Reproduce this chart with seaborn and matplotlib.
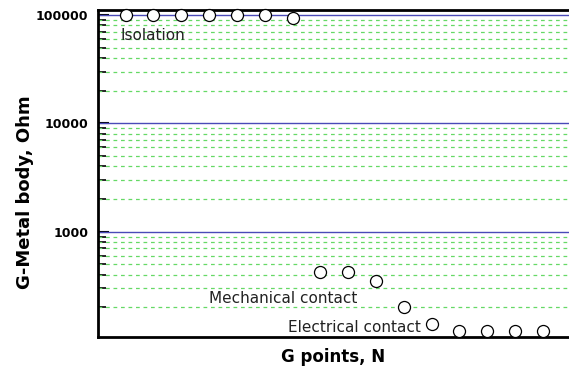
import numpy as np
import pandas as pd
import matplotlib
matplotlib.use("Agg")
import matplotlib.pyplot as plt
import matplotlib.ticker as mticker
import seaborn as sns

points = list(range(1, 17))
resistance = [100000, 100000, 100000, 100000, 100000, 100000, 94000,
              428, 428, 353, 200, 142, 120, 120, 120, 120]
major_levels = [1000, 10000, 100000]
minor_levels = [m * 10 ** e for e in (2, 3, 4) for m in range(2, 10)]

df = pd.DataFrame({"point": points, "ohm": resistance})

sns.set_style("white")
plt.rcParams["font.family"] = ["DejaVu Sans"]
plt.rcParams["text.color"] = "black"
plt.rcParams["axes.labelcolor"] = "black"
plt.rcParams["ytick.color"] = "black"

fig = plt.figure(figsize=(5.69, 3.69), dpi=100)
ax = fig.add_axes([0.172, 0.087, 0.828, 0.886])

# grid lines: green dashed for minor, blue solid for decades
for v in minor_levels:
    ax.axhline(v, color="#66d966", lw=0.9, ls=(0, (3, 3)), zorder=1)
for v in major_levels:
    ax.axhline(v, color="#4a4ab8", lw=1.0, zorder=1)

sns.scatterplot(data=df, x="point", y="ohm", ax=ax, s=75, marker="o",
                facecolor="white", edgecolor="black", linewidth=0.9,
                zorder=3, clip_on=False)

ax.set_yscale("log")
ax.set_ylim(107, 111000)
ax.set_xlim(0, 16.94)

ax.yaxis.set_major_locator(mticker.FixedLocator(major_levels))
ax.yaxis.set_major_formatter(mticker.FixedFormatter(["1000", "10000", "100000"]))
ax.yaxis.set_minor_locator(mticker.FixedLocator(minor_levels))
ax.yaxis.set_minor_formatter(mticker.NullFormatter())
ax.tick_params(axis="y", which="major", direction="in", length=8, width=1.5,
               left=True, labelsize=9, pad=7, colors="black")
ax.tick_params(axis="y", which="minor", direction="in", length=6, width=1.2,
               left=True, colors="black")
for lbl in ax.get_yticklabels():
    lbl.set_fontweight("bold")
ax.set_xticks([])

for side in ("left", "bottom", "top"):
    ax.spines[side].set_color("black")
    ax.spines[side].set_linewidth(2)
ax.spines["right"].set_visible(False)

ax.set_xlabel("G points, N", fontsize=12, fontweight="bold", labelpad=8)
ax.set_ylabel("G-Metal body, Ohm", fontsize=13, fontweight="bold", labelpad=12)
ax.yaxis.set_label_coords(-0.135, 0.443)

ax.text(0.8, 64000, "Isolation", fontsize=11, color="#222222", va="center")
ax.text(4.0, 240, "Mechanical contact", fontsize=11, color="#222222", va="center")
ax.text(6.85, 131, "Electrical contact", fontsize=11, color="#222222", va="center")

fig.savefig("out.png", dpi=100)
